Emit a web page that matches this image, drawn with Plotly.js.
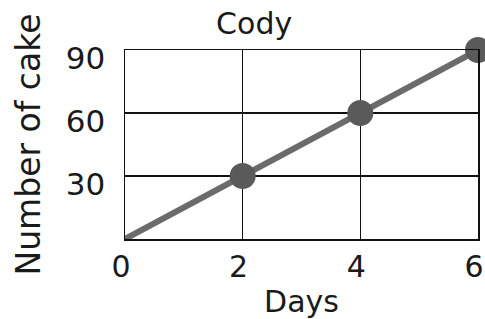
<!DOCTYPE html>
<html>
<head>
<meta charset="utf-8">
<script src="https://cdn.plot.ly/plotly-3.0.1.min.js"></script>
<style>html,body{margin:0;padding:0;background:#fff;}#chart{width:485px;height:319px;}</style>
</head>
<body>
<div id="chart"></div>
<script>
const days = [0, 2, 4, 6];
const cakes = [0, 30, 60, 90];
const markerDays = [2, 4, 6];
const markerCakes = [30, 60, 90];
const xTicks = [0, 2, 4, 6];
const xTickLabels = ['0', '2', '4', '6'];
const yTicks = [30, 60, 90];
const yTickLabels = ['30', '60', '90'];

const font = {family: '"DejaVu Sans", Verdana, sans-serif', color: '#1a1a1a'};

const traces = [
  {x: days, y: cakes, type: 'scatter', mode: 'lines',
   line: {color: '#6b6b6b', width: 6}, cliponaxis: false, hoverinfo: 'skip'},
  {x: markerDays, y: markerCakes, type: 'scatter', mode: 'markers',
   marker: {color: '#5a5a5a', size: 26, line: {width: 0}}, cliponaxis: false}
];

const layout = {
  width: 485, height: 319,
  margin: {l: 125, r: 7, t: 50, b: 80},
  paper_bgcolor: '#fff', plot_bgcolor: '#fff',
  showlegend: false,
  font: Object.assign({size: 30}, font),
  title: {text: 'Cody', x: 0.524, xref: 'container', xanchor: 'center',
          y: 0.96, yref: 'container', yanchor: 'top',
          font: Object.assign({size: 30}, font)},
  xaxis: {range: [0, 6], tickvals: xTicks, ticktext: xTickLabels,
          showgrid: true, gridcolor: '#111', gridwidth: 1.2,
          showline: true, linecolor: '#111', linewidth: 1.5, mirror: true,
          zeroline: false, ticks: '', ticklabelstandoff: 0, ticklabelshift: -4,
          ticklabeloverflow: 'allow',
          tickfont: Object.assign({size: 30}, font),
          title: {text: 'Days', standoff: 12, font: Object.assign({size: 30}, font)}},
  yaxis: {range: [0, 90], tickvals: yTicks, ticktext: yTickLabels,
          showgrid: true, gridcolor: '#111', gridwidth: 1.2,
          showline: true, linecolor: '#111', linewidth: 1.5, mirror: true,
          zeroline: false, ticks: '', ticklabelstandoff: 12, ticklabelshift: 8,
          tickfont: Object.assign({size: 31}, font),
          title: {text: 'Number of cake', standoff: 15, font: Object.assign({size: 33}, font)}}
};

Plotly.newPlot('chart', traces, layout, {displayModeBar: false, staticPlot: true});
</script>
</body>
</html>
